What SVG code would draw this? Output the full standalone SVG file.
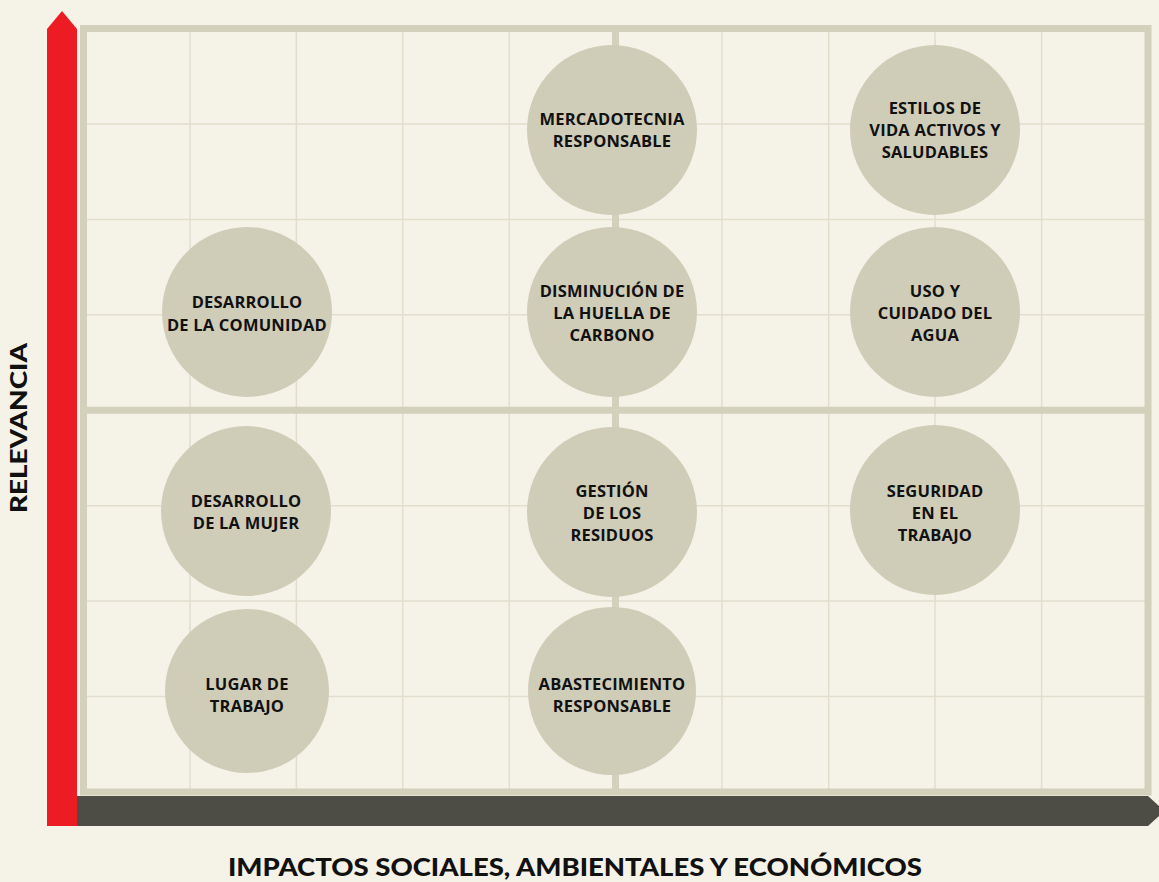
<svg xmlns="http://www.w3.org/2000/svg" width="1159" height="882" viewBox="0 0 1159 882">
<style>
.grid{stroke:#e1dece;stroke-width:1.5;fill:none}
.thick{stroke:#d3d0bc;stroke-width:7;fill:none}
.node circle{fill:#cfccb8}
.node text{font-family:"Open Sans","Noto Sans",sans-serif;font-weight:700;font-size:16.5px;letter-spacing:0.2px;fill:#111;text-anchor:middle}
.axis{font-family:"Lato","Liberation Sans",sans-serif;font-weight:900;fill:#111}
</style>
<rect width="1159" height="882" fill="#f5f3e7"/>
<g id="grid">
<path class="grid" d="M190 28V792M296.4 28V792M402.8 28V792M509.3 28V792M722 28V792M828.7 28V792M935 28V792M1041.6 28V792"/>
<path class="grid" d="M83 123.9H1148M83 219.4H1148M83 314.8H1148M83 505.7H1148M83 601H1148M83 696.6H1148"/>
<path class="thick" d="M615.5 28V792M83 410.3H1148"/>
<rect class="thick" x="83.5" y="28.5" width="1064.5" height="763.5"/>
</g>
<g id="axes">
<polygon points="47,29 62,11 77,29 77,826 47,826" fill="#ed1c24"/>
<polygon points="77,796 1148,796 1159,806 1159,816 1148,826 77,826" fill="#4d4c45"/>
<text class="axis" x="0" y="0" font-size="23" text-anchor="middle" textLength="170" lengthAdjust="spacingAndGlyphs" transform="translate(27,428) rotate(-90)">RELEVANCIA</text>
<text class="axis" x="575" y="876" font-size="24" text-anchor="middle" textLength="694" lengthAdjust="spacingAndGlyphs">IMPACTOS SOCIALES, AMBIENTALES Y ECONÓMICOS</text>
</g>
<g id="n-mercadotecnia" class="node"><circle cx="612" cy="130" r="85"/><text x="612" y="125">MERCADOTECNIA</text><text x="612" y="147">RESPONSABLE</text></g>
<g id="n-estilos" class="node"><circle cx="935" cy="130" r="85"/><text x="935" y="114">ESTILOS DE</text><text x="935" y="136">VIDA ACTIVOS Y</text><text x="935" y="158">SALUDABLES</text></g>
<g id="n-comunidad" class="node"><circle cx="247" cy="312" r="85"/><text x="247" y="307.5">DESARROLLO</text><text x="247" y="330.5">DE LA COMUNIDAD</text></g>
<g id="n-huella" class="node"><circle cx="612" cy="312" r="85"/><text x="612" y="296.5">DISMINUCIÓN DE</text><text x="612" y="318.5">LA HUELLA DE</text><text x="612" y="340.5">CARBONO</text></g>
<g id="n-agua" class="node"><circle cx="935" cy="312" r="85"/><text x="935" y="296.5">USO Y</text><text x="935" y="318.5">CUIDADO DEL</text><text x="935" y="340.5">AGUA</text></g>
<g id="n-mujer" class="node"><circle cx="246" cy="511" r="85"/><text x="246" y="507">DESARROLLO</text><text x="246" y="529">DE LA MUJER</text></g>
<g id="n-residuos" class="node"><circle cx="612" cy="512" r="85"/><text x="612" y="497">GESTIÓN</text><text x="612" y="519">DE LOS</text><text x="612" y="541">RESIDUOS</text></g>
<g id="n-seguridad" class="node"><circle cx="935" cy="510" r="85"/><text x="935" y="497">SEGURIDAD</text><text x="935" y="519">EN EL</text><text x="935" y="541">TRABAJO</text></g>
<g id="n-lugar" class="node"><circle cx="247" cy="691" r="82"/><text x="247" y="690">LUGAR DE</text><text x="247" y="712">TRABAJO</text></g>
<g id="n-abastecimiento" class="node"><circle cx="612" cy="691" r="84"/><text x="612" y="690">ABASTECIMIENTO</text><text x="612" y="712">RESPONSABLE</text></g>
<g id="connectors"></g>
</svg>
